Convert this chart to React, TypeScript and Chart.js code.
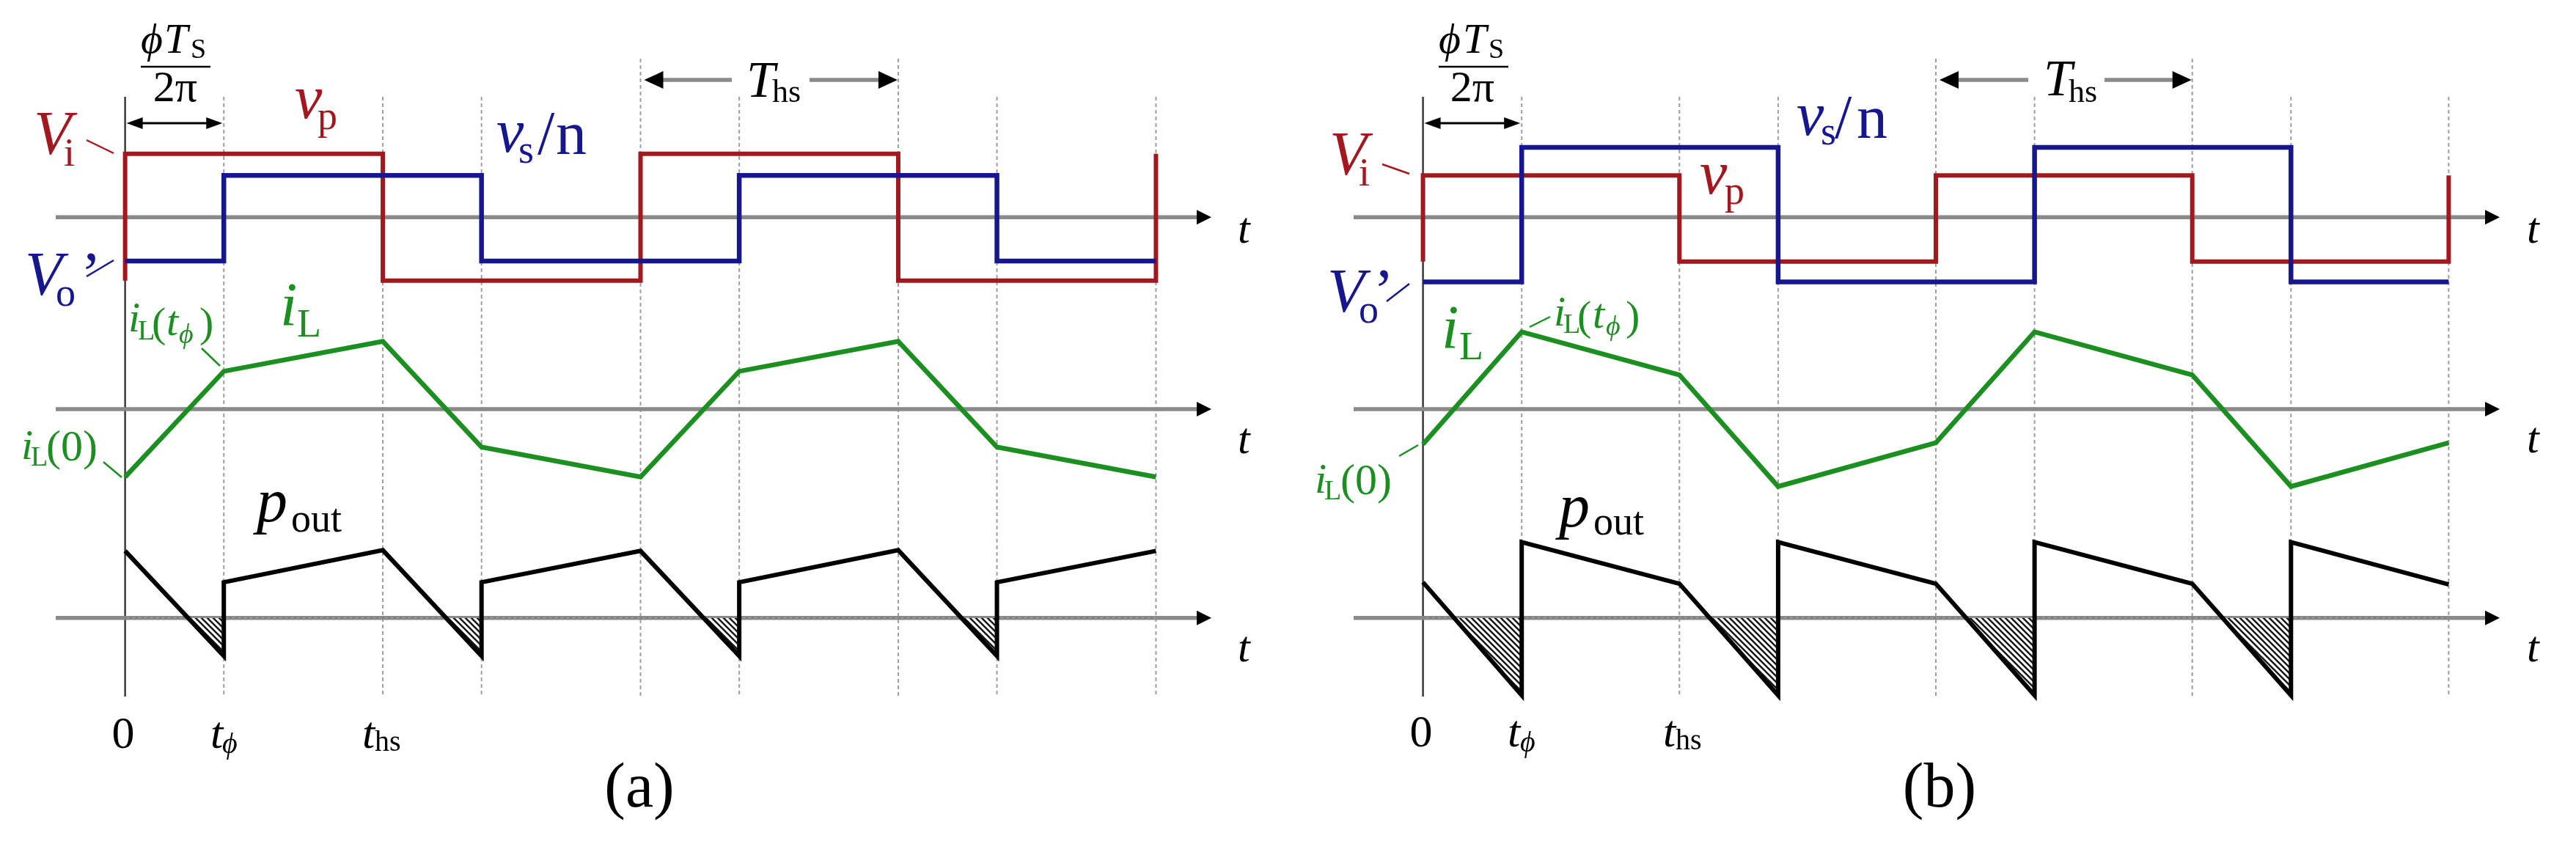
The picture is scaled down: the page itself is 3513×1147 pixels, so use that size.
import React, { useEffect, useRef } from "react";
import { Chart, registerables } from "chart.js";

Chart.register(...registerables);

// ------------------------------------------------------------------
// DATA  (time in units of the half switching period T_hs,
//        voltages normalised to V_i of panel (a), current and power p.u.)
// ------------------------------------------------------------------

// Panel (a)
const VP_A_T = [0, 0, 1, 1, 2, 2, 3, 3, 4, 4];
const VP_A = [-1.0, 1.0, 1.0, -1.0, -1.0, 1.0, 1.0, -1.0, -1.0, 1.0];
const VS_A_T = [0, 0.383, 0.383, 1.383, 1.383, 2.383, 2.383, 3.383, 3.383, 4];
const VS_A = [-0.69, -0.69, 0.66, 0.66, -0.69, -0.69, 0.66, 0.66, -0.69, -0.69];
const IL_A_T = [0, 0.383, 1, 1.383, 2, 2.383, 3, 3.383, 4];
const IL_A = [-0.93, 0.52, 0.93, -0.52, -0.93, 0.52, 0.93, -0.52, -0.93];
const P_A_T = [0, 0.383, 0.383, 1, 1.383, 1.383, 2, 2.383, 2.383, 3, 3.383, 3.383, 4];
const P_A = [0.92, -0.52, 0.49, 0.93, -0.52, 0.49, 0.92, -0.52, 0.49, 0.93, -0.52, 0.49, 0.92];

// Panel (b)
const VP_B_T = [0, 0, 1, 1, 2, 2, 3, 3, 4, 4];
const VP_B = [-0.7, 0.66, 0.66, -0.7, -0.7, 0.66, 0.66, -0.7, -0.7, 0.66];
const VS_B_T = [0, 0.385, 0.385, 1.385, 1.385, 2.385, 2.385, 3.385, 3.385, 4];
const VS_B = [-1.02, -1.02, 1.1, 1.1, -1.02, -1.02, 1.1, 1.1, -1.02, -1.02];
const IL_B_T = [0, 0.385, 1, 1.385, 2, 2.385, 3, 3.385, 4];
const IL_B = [-0.48, 1.06, 0.47, -1.06, -0.46, 1.06, 0.47, -1.06, -0.46];
const P_B_T = [0, 0.385, 0.385, 1, 1.385, 1.385, 2, 2.385, 2.385, 3, 3.385, 3.385, 4];
const P_B = [0.49, -1.06, 1.04, 0.47, -1.06, 1.04, 0.47, -1.06, 1.04, 0.47, -1.06, 1.04, 0.46];

// characteristic instants used for the guide lines and the arrows
const T_PHI_A = 0.383;
const T_PHI_B = 0.385;
const THS_SPAN = [2, 3];

// ------------------------------------------------------------------
// STYLE / LAYOUT
// ------------------------------------------------------------------
const H = 1147;
const FONT = '"Liberation Serif", "Times New Roman", Times, "DejaVu Serif", serif';
const RED = "#a3181f";
const BLUE = "#16168f";
const GREEN = "#1b8f1f";
const BLACK = "#000000";
const AXIS_GRAY = "#8a8a8a";
const GUIDE_GRAY = "#9e9e9e";

const VOLT_ZERO = 294.7;
const VOLT_PX = 87;
const CURR_ZERO = 558;
const CURR_PX = 100;
const POW_ZERO = 844.4;
const POW_PX = 100;
const GUIDE_TOP = 132;
const GUIDE_TOP_TALL = 80;
const GUIDE_BOTTOM = 950;

type Seg = { s: string; x: number; y: number; size: number; it?: boolean; align?: CanvasTextAlign };
type Label = { color: string; segs: Seg[] };
type Leader = { color: string; x1: number; y1: number; x2: number; y2: number };

type PanelSpec = {
  name: string;
  offset: number;
  width: number;
  zeroX: number;
  thPx: number;
  tPhi: number;
  axisStart: number;
  axisTip: number;
  thsGap: [number, number];
  fracBar: [number, number];
  vpT: number[];
  vp: number[];
  vsT: number[];
  vs: number[];
  ilT: number[];
  il: number[];
  pT: number[];
  p: number[];
  labels: Label[];
  leaders: Leader[];
};

const tLabels = (x: number, ys: number[]): Label[] =>
  ys.map((y) => ({ color: BLACK, segs: [{ s: "t", x, y, size: 60, it: true }] }));

const LABELS_A: Label[] = [
  { color: RED, segs: [{ s: "V", x: 46, y: 210, size: 84, it: true }, { s: "i", x: 87, y: 226, size: 54 }] },
  {
    color: BLUE,
    segs: [
      { s: "V", x: 34, y: 402, size: 84, it: true },
      { s: "o", x: 76, y: 417, size: 54 },
      { s: "\u2019", x: 110, y: 402, size: 84 },
    ],
  },
  { color: RED, segs: [{ s: "v", x: 402, y: 161, size: 84, it: true }, { s: "p", x: 433, y: 176, size: 54 }] },
  {
    color: BLUE,
    segs: [
      { s: "v", x: 677, y: 207, size: 84, it: true },
      { s: "s", x: 707, y: 222, size: 54 },
      { s: "/", x: 733, y: 210, size: 84 },
      { s: "n", x: 758, y: 210, size: 84 },
    ],
  },
  { color: GREEN, segs: [{ s: "i", x: 382, y: 444, size: 84, it: true }, { s: "L", x: 405, y: 459, size: 54 }] },
  {
    color: GREEN,
    segs: [
      { s: "i", x: 175, y: 452, size: 58, it: true },
      { s: "L", x: 188, y: 463, size: 38 },
      { s: "(", x: 207, y: 459, size: 58 },
      { s: "t", x: 227, y: 457, size: 58, it: true },
      { s: "\u03D5", x: 244, y: 468, size: 38, it: true },
      { s: ")", x: 272, y: 459, size: 58 },
    ],
  },
  {
    color: GREEN,
    segs: [
      { s: "i", x: 29, y: 626, size: 58, it: true },
      { s: "L", x: 42, y: 635, size: 38 },
      { s: "(0)", x: 63, y: 628, size: 60 },
    ],
  },
  { color: BLACK, segs: [{ s: "p", x: 350, y: 711, size: 84, it: true }, { s: "out", x: 397, y: 725, size: 54 }] },
  { color: BLACK, segs: [{ s: "T", x: 1018, y: 132, size: 70, it: true }, { s: "hs", x: 1053, y: 139, size: 44 }] },
  {
    color: BLACK,
    segs: [
      { s: "\u03D5", x: 192, y: 72, size: 58, it: true },
      { s: "T", x: 224, y: 72, size: 58, it: true },
      { s: "S", x: 260, y: 79, size: 38 },
    ],
  },
  { color: BLACK, segs: [{ s: "2\u03C0", x: 239, y: 138, size: 60, align: "center" }] },
  { color: BLACK, segs: [{ s: "0", x: 168, y: 1020, size: 62, align: "center" }] },
  { color: BLACK, segs: [{ s: "t", x: 287, y: 1020, size: 62, it: true }, { s: "\u03D5", x: 303, y: 1027, size: 40, it: true }] },
  { color: BLACK, segs: [{ s: "t", x: 494, y: 1020, size: 62, it: true }, { s: "hs", x: 511, y: 1024, size: 40 }] },
  { color: BLACK, segs: [{ s: "(a)", x: 872, y: 1100, size: 86, align: "center" }] },
  ...tLabels(1688, [331, 618, 902]),
];

const LEADERS_A: Leader[] = [
  { color: RED, x1: 118, y1: 191, x2: 155, y2: 209 },
  { color: BLUE, x1: 118, y1: 377, x2: 155, y2: 355 },
  { color: GREEN, x1: 275, y1: 475, x2: 300, y2: 499 },
  { color: GREEN, x1: 141, y1: 630, x2: 166, y2: 651 },
];

const LABELS_B: Label[] = [
  { color: RED, segs: [{ s: "V", x: 1813, y: 238, size: 84, it: true }, { s: "i", x: 1853, y: 253, size: 54 }] },
  {
    color: BLUE,
    segs: [
      { s: "V", x: 1810, y: 425, size: 84, it: true },
      { s: "o", x: 1853, y: 440, size: 54 },
      { s: "\u2019", x: 1873, y: 425, size: 84 },
    ],
  },
  { color: RED, segs: [{ s: "v", x: 2318, y: 264, size: 84, it: true }, { s: "p", x: 2352, y: 278, size: 54 }] },
  {
    color: BLUE,
    segs: [
      { s: "v", x: 2450, y: 184, size: 84, it: true },
      { s: "s", x: 2483, y: 197, size: 54 },
      { s: "/", x: 2502, y: 188, size: 84 },
      { s: "n", x: 2532, y: 188, size: 84 },
    ],
  },
  { color: GREEN, segs: [{ s: "i", x: 1966, y: 475, size: 84, it: true }, { s: "L", x: 1990, y: 490, size: 54 }] },
  {
    color: GREEN,
    segs: [
      { s: "i", x: 2119, y: 444, size: 58, it: true },
      { s: "L", x: 2132, y: 454, size: 38 },
      { s: "(", x: 2151, y: 450, size: 58 },
      { s: "t", x: 2172, y: 447, size: 58, it: true },
      { s: "\u03D5", x: 2190, y: 457, size: 38, it: true },
      { s: ")", x: 2217, y: 450, size: 58 },
    ],
  },
  {
    color: GREEN,
    segs: [
      { s: "i", x: 1793, y: 672, size: 58, it: true },
      { s: "L", x: 1806, y: 681, size: 38 },
      { s: "(0)", x: 1828, y: 674, size: 60 },
    ],
  },
  { color: BLACK, segs: [{ s: "p", x: 2126, y: 718, size: 84, it: true }, { s: "out", x: 2173, y: 729, size: 54 }] },
  { color: BLACK, segs: [{ s: "T", x: 2787, y: 130, size: 70, it: true }, { s: "hs", x: 2821, y: 139, size: 44 }] },
  {
    color: BLACK,
    segs: [
      { s: "\u03D5", x: 1962, y: 72, size: 58, it: true },
      { s: "T", x: 1995, y: 72, size: 58, it: true },
      { s: "S", x: 2030, y: 79, size: 38 },
    ],
  },
  { color: BLACK, segs: [{ s: "2\u03C0", x: 2008, y: 138, size: 60, align: "center" }] },
  { color: BLACK, segs: [{ s: "0", x: 1938, y: 1018, size: 62, align: "center" }] },
  { color: BLACK, segs: [{ s: "t", x: 2056, y: 1018, size: 62, it: true }, { s: "\u03D5", x: 2073, y: 1025, size: 40, it: true }] },
  { color: BLACK, segs: [{ s: "t", x: 2268, y: 1018, size: 62, it: true }, { s: "hs", x: 2285, y: 1022, size: 40 }] },
  { color: BLACK, segs: [{ s: "(b)", x: 2645, y: 1100, size: 86, align: "center" }] },
  ...tLabels(3446, [331, 617, 902]),
];

const LEADERS_B: Leader[] = [
  { color: RED, x1: 1885, y1: 224, x2: 1922, y2: 237 },
  { color: BLUE, x1: 1891, y1: 411, x2: 1922, y2: 387 },
  { color: GREEN, x1: 2086, y1: 446, x2: 2114, y2: 432 },
  { color: GREEN, x1: 1908, y1: 622, x2: 1934, y2: 607 },
];

const PANELS: PanelSpec[] = [
  {
    name: "a",
    offset: 0,
    width: 1756,
    zeroX: 168,
    thPx: 352.75,
    tPhi: T_PHI_A,
    axisStart: 76,
    axisTip: 1652,
    thsGap: [998, 1104],
    fracBar: [192, 287],
    vpT: VP_A_T,
    vp: VP_A,
    vsT: VS_A_T,
    vs: VS_A,
    ilT: IL_A_T,
    il: IL_A,
    pT: P_A_T,
    p: P_A,
    labels: LABELS_A,
    leaders: LEADERS_A,
  },
  {
    name: "b",
    offset: 1756,
    width: 1757,
    zeroX: 1938,
    thPx: 351,
    tPhi: T_PHI_B,
    axisStart: 1846,
    axisTip: 3409,
    thsGap: [2766, 2870],
    fracBar: [1962, 2057],
    vpT: VP_B_T,
    vp: VP_B,
    vsT: VS_B_T,
    vs: VS_B,
    ilT: IL_B_T,
    il: IL_B,
    pT: P_B_T,
    p: P_B,
    labels: LABELS_B,
    leaders: LEADERS_B,
  },
];

// ------------------------------------------------------------------
// helpers
// ------------------------------------------------------------------
function axisRange(zeroPx: number, pxPerUnit: number) {
  return { min: -(H - zeroPx) / pxPerUnit, max: zeroPx / pxPerUnit };
}

function makeHatch(): CanvasPattern | string {
  const c = document.createElement("canvas");
  c.width = 8;
  c.height = 8;
  const g = c.getContext("2d");
  if (!g) return "#555";
  g.fillStyle = "#ffffff";
  g.fillRect(0, 0, 8, 8);
  g.strokeStyle = "#1a1a1a";
  g.lineWidth = 2.6;
  g.beginPath();
  g.moveTo(-2, -2);
  g.lineTo(10, 10);
  g.moveTo(-2, 6);
  g.lineTo(2, 10);
  g.moveTo(6, -2);
  g.lineTo(10, 2);
  g.stroke();
  return g.createPattern(c, "repeat") || "#555";
}

function arrowHead(ctx: CanvasRenderingContext2D, tipX: number, y: number, dir: number, len: number, half: number) {
  ctx.beginPath();
  ctx.moveTo(tipX, y);
  ctx.lineTo(tipX - dir * len, y - half);
  ctx.lineTo(tipX - dir * len, y + half);
  ctx.closePath();
  ctx.fill();
}

function drawLabel(ctx: CanvasRenderingContext2D, lab: Label, off: number) {
  ctx.fillStyle = lab.color;
  ctx.textBaseline = "alphabetic";
  for (const s of lab.segs) {
    ctx.font = `${s.it ? "italic " : "normal "}${s.size}px ${FONT}`;
    ctx.textAlign = s.align || "left";
    ctx.fillText(s.s, s.x - off, s.y);
  }
}

function makePlugin(p: PanelSpec) {
  const off = p.offset;
  return {
    id: "waveformDecor" + p.name,
    beforeDatasetsDraw(chart: any) {
      const ctx: CanvasRenderingContext2D = chart.ctx;
      const xs = chart.scales.x;
      ctx.save();
      // vertical guide lines at the switching instants
      for (const t of p.ilT) {
        const x = xs.getPixelForValue(t);
        const top = THS_SPAN.includes(t) ? GUIDE_TOP_TALL : GUIDE_TOP;
        ctx.beginPath();
        if (t === 0) {
          ctx.setLineDash([]);
          ctx.strokeStyle = "#3a3a3a";
          ctx.lineWidth = 2.5;
        } else {
          ctx.setLineDash([5, 4]);
          ctx.strokeStyle = GUIDE_GRAY;
          ctx.lineWidth = 2;
        }
        ctx.moveTo(x, top);
        ctx.lineTo(x, GUIDE_BOTTOM);
        ctx.stroke();
      }
      ctx.setLineDash([]);
      // horizontal time axes with arrows
      for (const id of ["yV", "yI", "yP"]) {
        const y = chart.scales[id].getPixelForValue(0);
        ctx.strokeStyle = AXIS_GRAY;
        ctx.lineWidth = 5.5;
        ctx.beginPath();
        ctx.moveTo(p.axisStart - off, y);
        ctx.lineTo(p.axisTip - off - 16, y);
        ctx.stroke();
        ctx.fillStyle = BLACK;
        arrowHead(ctx, p.axisTip - off, y, 1, 20, 10);
      }
      ctx.restore();
    },
    afterDatasetsDraw(chart: any) {
      const ctx: CanvasRenderingContext2D = chart.ctx;
      const xs = chart.scales.x;
      ctx.save();
      // phase-shift double arrow
      const x0 = xs.getPixelForValue(0);
      const xp = xs.getPixelForValue(p.tPhi);
      ctx.strokeStyle = BLACK;
      ctx.fillStyle = BLACK;
      ctx.lineWidth = 3;
      ctx.beginPath();
      ctx.moveTo(x0 + 10, 168);
      ctx.lineTo(xp - 10, 168);
      ctx.stroke();
      arrowHead(ctx, x0 + 2, 168, -1, 22, 8);
      arrowHead(ctx, xp - 2, 168, 1, 22, 8);
      // fraction bar
      ctx.lineWidth = 2.5;
      ctx.beginPath();
      ctx.moveTo(p.fracBar[0] - off, 91);
      ctx.lineTo(p.fracBar[1] - off, 91);
      ctx.stroke();
      // T_hs arrow
      const xa = xs.getPixelForValue(THS_SPAN[0]);
      const xb = xs.getPixelForValue(THS_SPAN[1]);
      ctx.strokeStyle = AXIS_GRAY;
      ctx.lineWidth = 5.5;
      ctx.beginPath();
      ctx.moveTo(xa + 20, 109);
      ctx.lineTo(p.thsGap[0] - off, 109);
      ctx.moveTo(p.thsGap[1] - off, 109);
      ctx.lineTo(xb - 20, 109);
      ctx.stroke();
      ctx.fillStyle = BLACK;
      arrowHead(ctx, xa + 5, 109, -1, 26, 12);
      arrowHead(ctx, xb - 1, 109, 1, 26, 12);
      // leader lines
      for (const l of p.leaders) {
        ctx.strokeStyle = l.color;
        ctx.lineWidth = 2.5;
        ctx.beginPath();
        ctx.moveTo(l.x1 - off, l.y1);
        ctx.lineTo(l.x2 - off, l.y2);
        ctx.stroke();
      }
      // text
      for (const lab of p.labels) drawLabel(ctx, lab, off);
      ctx.restore();
    },
  };
}

function buildConfig(p: PanelSpec, hatch: CanvasPattern | string): any {
  const x0 = p.zeroX - p.offset;
  const pts = (ts: number[], vs: number[]) => ts.map((t, i) => ({ x: t, y: vs[i] }));
  const common = { pointRadius: 0, tension: 0, borderJoinStyle: "miter", borderCapStyle: "butt", fill: false };
  return {
    type: "line",
    data: {
      datasets: [
        { ...common, label: "vs/n", data: pts(p.vsT, p.vs), yAxisID: "yV", borderColor: BLUE, borderWidth: 6.5, order: 1 },
        { ...common, label: "vp", data: pts(p.vpT, p.vp), yAxisID: "yV", borderColor: RED, borderWidth: 6, order: 2 },
        { ...common, label: "iL", data: pts(p.ilT, p.il), yAxisID: "yI", borderColor: GREEN, borderWidth: 6.5, order: 3 },
        {
          ...common,
          label: "pout",
          data: pts(p.pT, p.p),
          yAxisID: "yP",
          borderColor: BLACK,
          borderWidth: 6,
          order: 4,
          fill: { target: "origin", above: "rgba(0,0,0,0)", below: hatch },
        },
      ],
    },
    options: {
      animation: false,
      responsive: false,
      devicePixelRatio: 1,
      events: [],
      layout: { padding: 0 },
      plugins: { legend: { display: false }, tooltip: { enabled: false }, title: { display: false } },
      scales: {
        x: { type: "linear", display: false, min: -x0 / p.thPx, max: (p.width - x0) / p.thPx },
        yV: { type: "linear", display: false, ...axisRange(VOLT_ZERO, VOLT_PX) },
        yI: { type: "linear", display: false, ...axisRange(CURR_ZERO, CURR_PX) },
        yP: { type: "linear", display: false, ...axisRange(POW_ZERO, POW_PX) },
      },
    },
    plugins: [makePlugin(p)],
  };
}

function Panel({ spec }: { spec: PanelSpec }) {
  const ref = useRef<HTMLCanvasElement | null>(null);
  useEffect(() => {
    if (!ref.current) return;
    const chart = new Chart(ref.current, buildConfig(spec, makeHatch()));
    let alive = true;
    const fonts: any = (document as any).fonts;
    if (fonts && fonts.load) {
      Promise.all([
        fonts.load('normal 60px "Liberation Serif"'),
        fonts.load('italic 60px "Liberation Serif"'),
      ])
        .then(() => {
          if (alive) chart.update();
        })
        .catch(() => {});
    }
    return () => {
      alive = false;
      chart.destroy();
    };
  }, [spec]);
  return (
    <canvas
      ref={ref}
      width={spec.width}
      height={H}
      style={{ display: "block", width: spec.width + "px", height: H + "px" }}
    />
  );
}

export default function App() {
  useEffect(() => {
    document.body.style.margin = "0";
    document.body.style.background = "#ffffff";
  }, []);
  return (
    <div style={{ display: "flex", width: "3513px", height: H + "px", background: "#ffffff", overflow: "hidden" }}>
      {PANELS.map((p) => (
        <Panel key={p.name} spec={p} />
      ))}
    </div>
  );
}
